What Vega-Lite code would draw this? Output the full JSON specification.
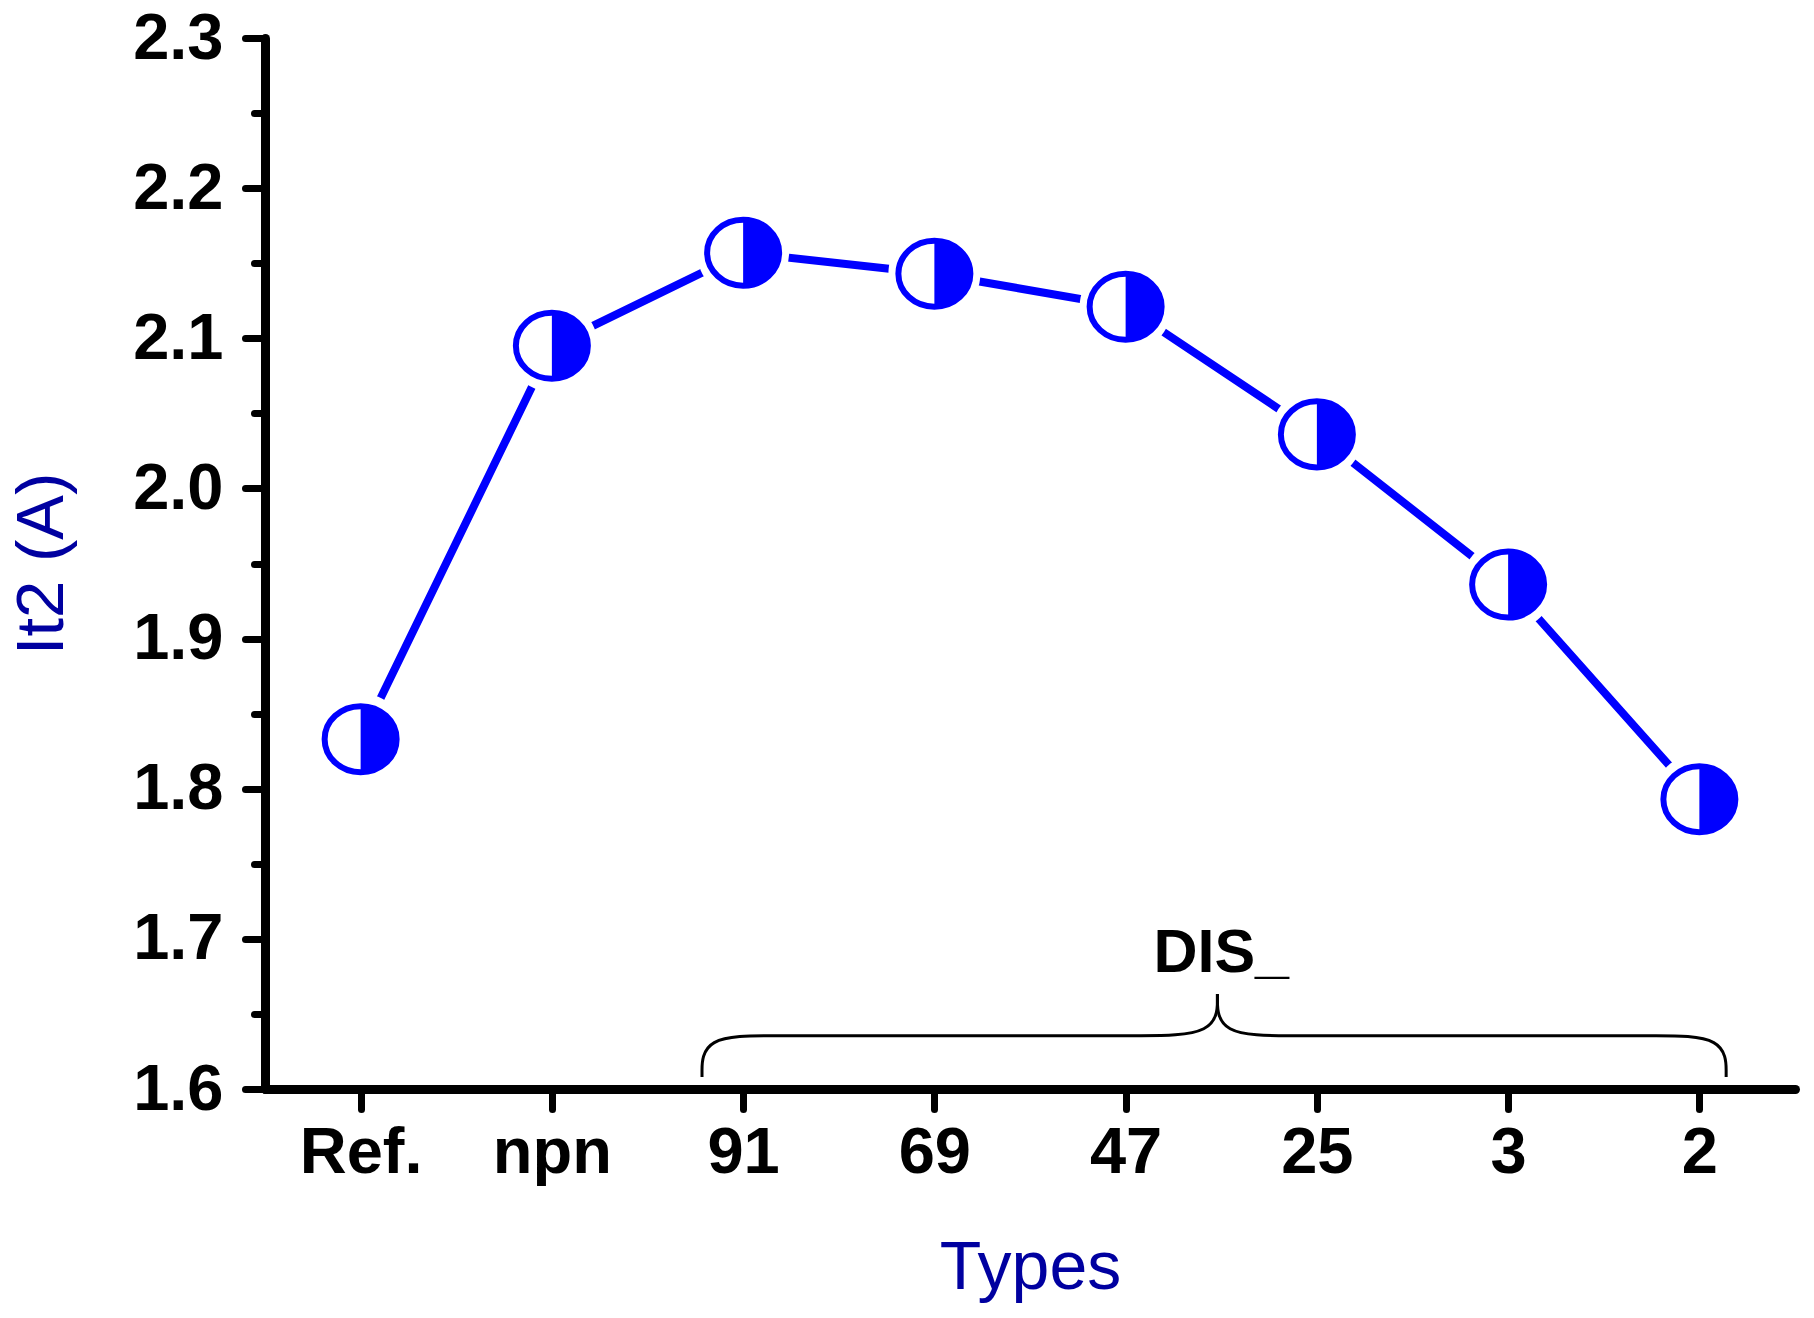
{
  "$schema": "https://vega.github.io/schema/vega-lite/v6.json",
  "width": 1530,
  "height": 1051,
  "autosize": {"type": "none"},
  "padding": {"left": 265, "top": 38, "right": 19, "bottom": 229},
  "background": "white",
  "config": {"view": {"stroke": null}, "font": "Liberation Sans"},
  "datasets": {
    "points": [
      {"type": "Ref.", "idx": 0, "v": 1.833},
      {"type": "npn", "idx": 1, "v": 2.095},
      {"type": "91", "idx": 2, "v": 2.157},
      {"type": "69", "idx": 3, "v": 2.143},
      {"type": "47", "idx": 4, "v": 2.121},
      {"type": "25", "idx": 5, "v": 2.036},
      {"type": "3", "idx": 6, "v": 1.936},
      {"type": "2", "idx": 7, "v": 1.793}
    ],
    "brace": [
      {"side": "left", "o": 1, "idx": 1.785, "v": 1.608},
      {"side": "left", "o": 2, "idx": 1.785, "v": 1.6355},
      {"side": "left", "o": 3, "idx": 2.17, "v": 1.6355},
      {"side": "left", "o": 4, "idx": 2.4, "v": 1.6355},
      {"side": "left", "o": 5, "idx": 3.8, "v": 1.6355},
      {"side": "left", "o": 6, "idx": 4.05, "v": 1.6355},
      {"side": "left", "o": 7, "idx": 4.48, "v": 1.6355},
      {"side": "left", "o": 8, "idx": 4.48, "v": 1.6633},
      {"side": "right", "o": 1, "idx": 4.48, "v": 1.6633},
      {"side": "right", "o": 2, "idx": 4.48, "v": 1.6355},
      {"side": "right", "o": 3, "idx": 4.88, "v": 1.6355},
      {"side": "right", "o": 4, "idx": 5.12, "v": 1.6355},
      {"side": "right", "o": 5, "idx": 6.5, "v": 1.6355},
      {"side": "right", "o": 6, "idx": 6.75, "v": 1.6355},
      {"side": "right", "o": 7, "idx": 7.14, "v": 1.6355},
      {"side": "right", "o": 8, "idx": 7.14, "v": 1.608}
    ],
    "label": [{"idx": 4.5, "v": 1.678, "label": "DIS_"}]
  },
  "encoding": {
    "x": {
      "field": "idx",
      "type": "quantitative",
      "scale": {"domain": [-0.5, 7.5], "nice": false, "zero": false},
      "axis": {
        "title": "Types",
        "values": [0, 1, 2, 3, 4, 5, 6, 7],
        "labelExpr": "['Ref.','npn','91','69','47','25','3','2'][datum.value]",
        "grid": false,
        "domainColor": "black",
        "domainWidth": 9,
        "domainCap": "round",
        "tickColor": "black",
        "tickWidth": 7,
        "tickSize": 20,
        "tickCap": "round",
        "labelFont": "Liberation Sans",
        "labelFontSize": 65,
        "labelFontWeight": "bold",
        "labelColor": "black",
        "labelPadding": 12,
        "labelFlush": false,
        "labelOverlap": false,
        "titleFont": "Liberation Sans",
        "titleFontSize": 68,
        "titleFontWeight": "normal",
        "titleColor": "#0000A0",
        "titleBaseline": "alphabetic",
        "titlePadding": 103
      }
    },
    "y": {
      "field": "v",
      "type": "quantitative",
      "scale": {"domain": [1.6, 2.3], "nice": false, "zero": false},
      "axis": {
        "title": "It2 (A)",
        "values": [1.6, 1.65, 1.7, 1.75, 1.8, 1.85, 1.9, 1.95, 2.0, 2.05, 2.1, 2.15, 2.2, 2.25, 2.3],
        "labelExpr": "round(datum.value*20) % 2 == 0 ? format(datum.value, '.1f') : ''",
        "grid": false,
        "domainColor": "black",
        "domainWidth": 9,
        "domainCap": "round",
        "tickColor": "black",
        "tickWidth": 7,
        "tickSize": {"condition": {"test": "round(datum.value*20) % 2 == 1", "value": 11}, "value": 20},
        "tickCap": "round",
        "labelFont": "Liberation Sans",
        "labelFontSize": 65,
        "labelFontWeight": "bold",
        "labelColor": "black",
        "labelPadding": 22,
        "labelFlush": false,
        "labelOverlap": false,
        "titleFont": "Liberation Sans",
        "titleFontSize": 67,
        "titleFontWeight": "normal",
        "titleColor": "#0000A0",
        "titleBaseline": "alphabetic",
        "titlePadding": 70
      }
    }
  },
  "layer": [
    {
      "data": {"name": "points"},
      "mark": {"type": "line", "color": "#0000FF", "strokeWidth": 8, "strokeCap": "round"}
    },
    {
      "data": {"name": "points"},
      "mark": {"type": "point", "shape": "circle", "filled": true, "fill": "white", "stroke": null, "opacity": 1, "size": 8464}
    },
    {
      "data": {"name": "points"},
      "mark": {"type": "point", "shape": "M-1,0A1,0.917,0,1,0,1,0A1,0.917,0,1,0,-1,0Z", "fill": "white", "stroke": "#0000FF", "strokeWidth": 6, "opacity": 1, "size": 5184}
    },
    {
      "data": {"name": "points"},
      "mark": {"type": "point", "shape": "M0,-0.917A1,0.917,0,0,1,0,0.917Z", "filled": true, "fill": "#0000FF", "stroke": null, "opacity": 1, "size": 5184}
    },
    {
      "data": {"name": "brace"},
      "mark": {"type": "line", "color": "black", "strokeWidth": 3, "interpolate": "basis"},
      "encoding": {"order": {"field": "o"}, "detail": {"field": "side"}}
    },
    {
      "data": {"name": "label"},
      "mark": {"type": "text", "font": "Liberation Sans", "fontSize": 61, "fontWeight": "bold", "color": "black", "align": "center", "baseline": "alphabetic"},
      "encoding": {"text": {"field": "label"}}
    }
  ]
}
